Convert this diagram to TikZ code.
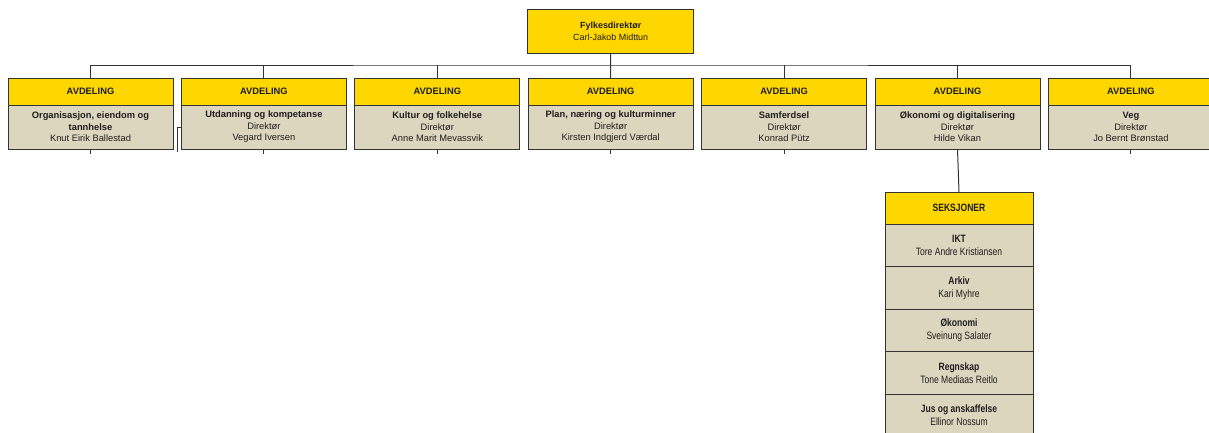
\documentclass[tikz,border=0pt]{standalone}
\usepackage{fontspec}
\setmainfont{Liberation Sans}
\newfontfamily\fknarrow[FakeStretch=0.8]{Liberation Sans}
\usepackage{xcolor}
\definecolor{fkgul}{HTML}{FFD700}
\definecolor{fkbeige}{HTML}{DCD6BE}
\definecolor{fkkant}{HTML}{333333}
\definecolor{fktekst}{HTML}{1E1E1E}
\usetikzlibrary{positioning}
\tikzset{
  fkhead/.style={draw=fkkant,fill=fkgul,line width=0.75pt,outer sep=0pt,inner sep=1pt,minimum width=123.75pt,minimum height=20.25pt,align=center,text=fktekst,font=\fontsize{7}{8.6}\selectfont\bfseries},
  fkbody/.style={fkhead,fill=fkbeige,minimum height=33pt,font=\fontsize{7}{8.6}\selectfont},
  fktop/.style={fkhead,minimum width=124.5pt,minimum height=33pt,font=\fontsize{6.7}{9}\selectfont},
  fkseks/.style={fkhead,minimum width=111pt,minimum height=24pt,font=\fknarrow\fontsize{8}{9.75}\selectfont\bfseries},
  fkrad/.style={fkseks,fill=fkbeige,minimum height=31.875pt,font=\fknarrow\fontsize{8}{9.75}\selectfont},
  fkline/.style={draw=fkkant,line width=0.75pt},
}
\begin{document}
\begin{tikzpicture}[x=0.75pt,y=-0.75pt,node distance=6.3pt]
\useasboundingbox (0,0) rectangle (1209,432);
\node[fktop] (dir) at (610.7,31) {\textbf{Fylkesdirektør}\\Carl-Jakob Midttun};
% avdelinger
\node[fkhead] (h1) at (90.5,91.5) {AVDELING};
\node[fkhead,right=of h1] (h2) {AVDELING};
\node[fkhead,right=of h2] (h3) {AVDELING};
\node[fkhead,right=of h3] (h4) {AVDELING};
\node[fkhead,right=of h4] (h5) {AVDELING};
\node[fkhead,right=of h5] (h6) {AVDELING};
\node[fkhead,right=of h6] (h7) {AVDELING};
\node[fkbody,below=0pt of h1] (b1) {\textbf{Organisasjon, eiendom og}\\\textbf{tannhelse}\\Knut Eirik Ballestad};
\node[fkbody,below=0pt of h2] (b2) {\textbf{Utdanning og kompetanse}\\Direktør\\Vegard Iversen};
\node[fkbody,below=0pt of h3] (b3) {\textbf{Kultur og folkehelse}\\Direktør\\Anne Marit Mevassvik};
\node[fkbody,below=0pt of h4] (b4) {\textbf{Plan, næring og kulturminner}\\Direktør\\Kirsten Indgjerd Værdal};
\node[fkbody,below=0pt of h5] (b5) {\textbf{Samferdsel}\\Direktør\\Konrad Pütz};
\node[fkbody,below=0pt of h6] (b6) {\textbf{Økonomi og digitalisering}\\Direktør\\Hilde Vikan};
\node[fkbody,below=0pt of h7] (b7) {\textbf{Veg}\\Direktør\\Jo Bernt Brønstad};
% seksjoner
\node[fkseks] (sh) at (959,208) {SEKSJONER};
\node[fkrad,below=0pt of sh] (r1) {\textbf{IKT}\\Tore Andre Kristiansen};
\node[fkrad,below=0pt of r1] (r2) {\textbf{Arkiv}\\Kari Myhre};
\node[fkrad,below=0pt of r2] (r3) {\textbf{Økonomi}\\Sveinung Salater};
\node[fkrad,below=0pt of r3] (r4) {\textbf{Regnskap}\\Tone Mediaas Reitlo};
\node[fkrad,below=0pt of r4] (r5) {\textbf{Jus og anskaffelse}\\Ellinor Nossum};
% linjer
\coordinate (bus) at (610.7,65);
\draw[fkline] (dir.south) -- (h4.north);
\draw[fkline] (h1.north) |- (bus) -| (h7.north);
\draw[fkline] (h2.north) -- (h2.north |- bus);
\draw[fkline] (h3.north) -- (h3.north |- bus);
\draw[fkline] (h5.north) -- (h5.north |- bus);
\draw[fkline] (h6.north) -- (h6.north |- bus);
\draw[fkline] (b6.south) -- (sh.north);
\draw[fkline] (b1.south) -- ++(0,5);
\draw[fkline] (b2.south) -- ++(0,5);
\draw[fkline] (b3.south) -- ++(0,5);
\draw[fkline] (b4.south) -- ++(0,5);
\draw[fkline] (b5.south) -- ++(0,5);
\draw[fkline] (b7.south) -- ++(0,5);
\draw[fkline] (b2.west) -- ++(-4,0) -- ++(0,25);
\end{tikzpicture}
\end{document}
